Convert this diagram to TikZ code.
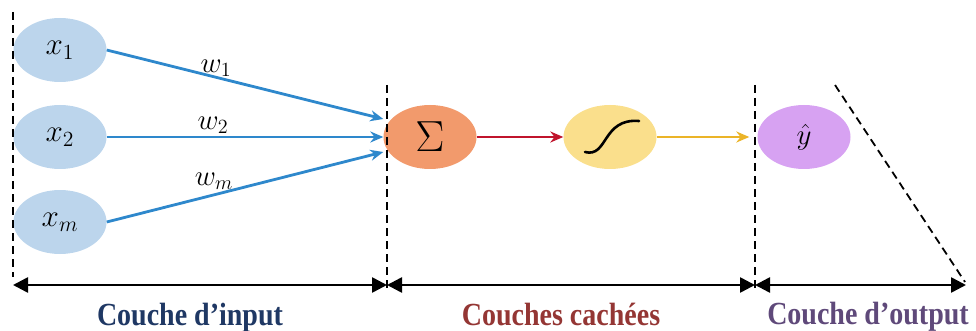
\documentclass[tikz,border=0pt]{standalone}
\usepackage{fontspec}
\setmainfont{Liberation Serif}
\usetikzlibrary{shapes.geometric,arrows.meta}
\definecolor{inblue}{HTML}{BCD5EC}
\definecolor{sumorange}{HTML}{F29A6C}
\definecolor{actyellow}{HTML}{FADF8C}
\definecolor{outviolet}{HTML}{D7A2F2}
\definecolor{wireblue}{HTML}{2E88CC}
\definecolor{wirered}{HTML}{C0142C}
\definecolor{wireyellow}{HTML}{EBB428}
\definecolor{lblblue}{HTML}{1F3864}
\definecolor{lblred}{HTML}{943634}
\definecolor{lblviolet}{HTML}{5F497A}
\tikzset{
  neuron/.style={ellipse, minimum width=93pt, minimum height=64pt, inner sep=0pt},
  wire/.style={line width=2.8pt, -{Stealth[length=13pt,width=11pt]}},
  sep/.style={line width=1.8pt, dash pattern=on 8pt off 5pt},
  span/.style={line width=2.6pt, {Triangle[length=15pt,width=15pt]}-{Triangle[length=15pt,width=15pt]}},
  layerlbl/.style={font=\bfseries\fontsize{28}{30}\selectfont, inner sep=0pt, anchor=base},
  wlbl/.style={inner sep=0pt}
}
% math set at 20pt, then scaled up
\newcommand{\bigmath}[2]{\scalebox{#1}{\fontsize{20}{22}\selectfont$#2$}}
\newcommand{\tallerlbl}[1]{\scalebox{1}[1.15]{#1}}
\begin{document}
\begin{tikzpicture}[x=1pt,y=-1pt]
\useasboundingbox (0,0) rectangle (976,331);

% input neurons
\node[neuron, fill=inblue] (x1) at (60,50) {\bigmath{1.5}{x_1}};
\node[neuron, fill=inblue] (x2) at (60,137) {\bigmath{1.5}{x_2}};
\node[neuron, fill=inblue] (xm) at (60,222) {\bigmath{1.5}{x_m}};

% summation and activation
\node[neuron, fill=sumorange] (sum) at (430,137) {\bigmath{2.1}{\Sigma}};
\node[neuron, fill=actyellow] (act) at (610,137) {};
\draw[line width=2.6pt, line cap=round] (585,152) .. controls (608,158) and (602,118) .. (639,121);

% output neuron
\node[neuron, fill=outviolet] (out) at (804,137) {\bigmath{1.4}{\hat{y}}};

% weighted inputs
\coordinate (in1) at ([yshift=18pt]sum.west);
\coordinate (in2) at (sum.west);
\coordinate (in3) at ([yshift=-15pt]sum.west);
\draw[wire, wireblue] (x1.east) -- (in1);
\draw[wire, wireblue] (x2.east) -- (in2);
\draw[wire, wireblue] (xm.east) -- (in3);
\node[wlbl] (w1) at (216,68) {\bigmath{1.4}{w_1}};
\node[wlbl] (w2) at (213,125) {\bigmath{1.4}{w_2}};
\node[wlbl] (wm) at (214,181) {\bigmath{1.4}{w_m}};

% forward pass
\draw[wire, wirered] (sum.east) -- (act.west);
\coordinate (outin) at ([xshift=-8pt]out.west);
\draw[wire, wireyellow] (act.east) -- (outin);

% layer separators
\draw[sep] (13,12) -- (13,277);
\draw[sep] (387,85) -- (387,290);
\draw[sep] (755,85) -- (755,290);
\draw[sep] (835,85) -- (965,282);

% layer spans
\coordinate (b0) at (13,285);
\coordinate (b1) at (387,285);
\coordinate (b2) at (755,285);
\coordinate (b3) at (966,285);
\draw[span] (b0) -- (b1);
\draw[span] (b1) -- (b2);
\draw[span] (b2) -- (b3);

\node[layerlbl, text=lblblue] (l1) at (190,325) {\tallerlbl{Couche d’input}};
\node[layerlbl, text=lblred] (l2) at (561,325) {\tallerlbl{Couches cachées}};
\node[layerlbl, text=lblviolet] (l3) at (868,324) {\tallerlbl{Couche d’output}};
\end{tikzpicture}
\end{document}
